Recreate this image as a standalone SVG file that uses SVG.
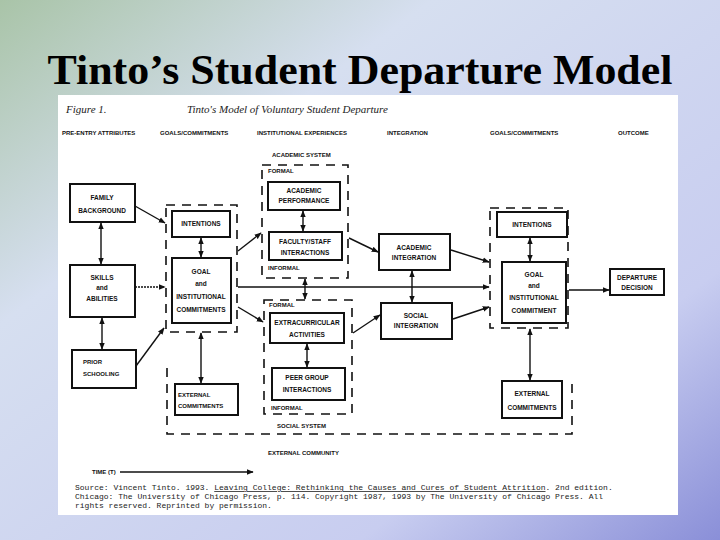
<svg xmlns="http://www.w3.org/2000/svg" width="720" height="540" viewBox="0 0 720 540">
<defs>
<linearGradient id="bg" x1="0" y1="0" x2="1" y2="1">
<stop offset="0" stop-color="#a9c4a8"/><stop offset="0.3" stop-color="#d6dff0"/><stop offset="0.75" stop-color="#c8cdf0"/><stop offset="1" stop-color="#8a8fd8"/>
</linearGradient>
<marker id="a" viewBox="0 0 10 10" refX="9" refY="5" markerWidth="5" markerHeight="5" orient="auto-start-reverse"><path d="M0,1 L10,5 L0,9 z" fill="#111"/></marker>
<style>
.b{fill:#fff;stroke:#111;stroke-width:2}
.d{fill:none;stroke:#111;stroke-width:1.6;stroke-dasharray:9,7}
.t{font-family:"Liberation Sans",Arial,sans-serif;font-size:6.5px;font-weight:bold;fill:#111;text-anchor:middle}
.l{font-family:"Liberation Sans",Arial,sans-serif;font-size:6px;font-weight:bold;fill:#111}
.c{stroke:#111;stroke-width:1.4;fill:none}
.s{font-family:"Liberation Mono","Courier New",monospace;font-size:8px;fill:#222}
</style>
</defs>
<rect width="720" height="540" fill="url(#bg)"/>
<text x="360" y="84" font-family="Liberation Serif,'Times New Roman',serif" font-size="43" font-weight="bold" text-anchor="middle" fill="#000" textLength="625" lengthAdjust="spacingAndGlyphs">Tinto’s Student Departure Model</text>
<rect x="58" y="95" width="620" height="420" fill="#fff"/>
<text x="66" y="113" font-family="Liberation Serif,serif" font-style="italic" font-size="11" fill="#222">Figure 1.</text>
<text x="187" y="113" font-family="Liberation Serif,serif" font-style="italic" font-size="11" fill="#222">Tinto's Model of Voluntary Student Departure</text>
<g class="l">
<text x="62" y="135">PRE-ENTRY ATTRIBUTES</text><text x="160" y="135">GOALS/COMMITMENTS</text><text x="257" y="135">INSTITUTIONAL EXPERIENCES</text><text x="387" y="135">INTEGRATION</text><text x="490" y="135">GOALS/COMMITMENTS</text><text x="618" y="135">OUTCOME</text>
<text x="272" y="157">ACADEMIC SYSTEM</text>
<text x="268" y="173">FORMAL</text><text x="268" y="270">INFORMAL</text>
<text x="269" y="307">FORMAL</text><text x="271" y="410">INFORMAL</text>
<text x="277" y="428">SOCIAL SYSTEM</text>
<text x="268" y="455">EXTERNAL COMMUNITY</text>
<text x="92" y="474">TIME (T)</text>
</g>
<g id="groups">
<rect class="d" x="166" y="205" width="71" height="127"/>
<rect class="d" x="262" y="165" width="86" height="113"/>
<rect class="d" x="264" y="300" width="88" height="114"/>
<rect class="d" x="490" y="208" width="78" height="120"/>
<path class="d" d="M167,368 V434 H572 V377"/>
</g>
<g id="nodes">
<g id="family"><rect class="b" x="70" y="184" width="65" height="38"/><text class="t" x="102" y="200">FAMILY</text><text class="t" x="102" y="213">BACKGROUND</text></g>
<g id="skills"><rect class="b" x="70" y="265" width="65" height="52"/><text class="t" x="102" y="280">SKILLS</text><text class="t" x="102" y="290" font-size="5">and</text><text class="t" x="102" y="301">ABILITIES</text></g>
<g id="prior"><rect class="b" x="72" y="350" width="64" height="38"/><text class="l" x="83" y="364">PRIOR</text><text class="l" x="83" y="376">SCHOOLING</text></g>
<g id="int1"><rect class="b" x="172" y="211" width="58" height="26"/><text class="t" x="201" y="226">INTENTIONS</text></g>
<g id="goal1"><rect class="b" x="172" y="258" width="59" height="65"/><text class="t" x="201" y="274">GOAL</text><text class="t" x="201" y="286" font-size="5">and</text><text class="t" x="201" y="299">INSTITUTIONAL</text><text class="t" x="201" y="312">COMMITMENTS</text></g>
<g id="ext1"><rect class="b" x="175" y="384" width="63" height="31"/><text class="l" x="178" y="397">EXTERNAL</text><text class="l" x="178" y="408">COMMITMENTS</text></g>
<g id="acperf"><rect class="b" x="268" y="182" width="72" height="28"/><text class="t" x="304" y="193">ACADEMIC</text><text class="t" x="304" y="203">PERFORMANCE</text></g>
<g id="faculty"><rect class="b" x="269" y="232" width="73" height="28"/><text class="t" x="305" y="244">FACULTY/STAFF</text><text class="t" x="305" y="255">INTERACTIONS</text></g>
<g id="extra"><rect class="b" x="270" y="313" width="74" height="30"/><text class="t" x="307" y="325">EXTRACURRICULAR</text><text class="t" x="307" y="337">ACTIVITIES</text></g>
<g id="peer"><rect class="b" x="272" y="368" width="73" height="32"/><text class="t" x="307" y="380">PEER GROUP</text><text class="t" x="307" y="392">INTERACTIONS</text></g>
<g id="acint"><rect class="b" x="379" y="234" width="71" height="36"/><text class="t" x="414" y="250">ACADEMIC</text><text class="t" x="414" y="260">INTEGRATION</text></g>
<g id="socint"><rect class="b" x="381" y="303" width="71" height="36"/><text class="t" x="416" y="318">SOCIAL</text><text class="t" x="416" y="328">INTEGRATION</text></g>
<g id="int2"><rect class="b" x="497" y="212" width="70" height="25"/><text class="t" x="532" y="227">INTENTIONS</text></g>
<g id="goal2"><rect class="b" x="502" y="262" width="64" height="61"/><text class="t" x="534" y="277">GOAL</text><text class="t" x="534" y="288" font-size="5">and</text><text class="t" x="534" y="300">INSTITUTIONAL</text><text class="t" x="534" y="313">COMMITMENT</text></g>
<g id="ext2"><rect class="b" x="502" y="381" width="60" height="37"/><text class="t" x="532" y="396">EXTERNAL</text><text class="t" x="532" y="410">COMMITMENTS</text></g>
<g id="departure"><rect class="b" x="610" y="269" width="54" height="26"/><text class="t" x="637" y="280">DEPARTURE</text><text class="t" x="637" y="290">DECISION</text></g>
</g>
<g id="connectors" marker-end="url(#a)">
<line class="c" x1="135" y1="206" x2="165" y2="223"/>
<line class="c" x1="135" y1="287" x2="165" y2="287" stroke-dasharray="2,1"/>
<line class="c" x1="136" y1="366" x2="164" y2="328"/>
<line class="c" x1="101" y1="223" x2="101" y2="264" marker-start="url(#a)"/>
<line class="c" x1="102" y1="318" x2="102" y2="349" marker-start="url(#a)"/>
<line class="c" x1="201" y1="238" x2="201" y2="257" marker-start="url(#a)"/>
<line class="c" x1="201" y1="333" x2="201" y2="383" marker-start="url(#a)"/>
<line class="c" x1="238" y1="251" x2="261" y2="233"/>
<line class="c" x1="238" y1="307" x2="263" y2="322"/>
<line class="c" x1="303" y1="211" x2="303" y2="231" marker-start="url(#a)"/>
<line class="c" x1="349" y1="238" x2="378" y2="252"/>
<line class="c" x1="307" y1="344" x2="307" y2="367" marker-start="url(#a)"/>
<line class="c" x1="353" y1="333" x2="380" y2="315"/>
<line class="c" x1="412" y1="271" x2="412" y2="302" marker-start="url(#a)"/>
<line class="c" x1="451" y1="250" x2="489" y2="262"/>
<line class="c" x1="453" y1="319" x2="489" y2="307"/>
<line class="c" x1="238" y1="287" x2="489" y2="287"/>
<line class="c" x1="305" y1="279" x2="305" y2="299" marker-start="url(#a)"/>
<line class="c" x1="530" y1="238" x2="530" y2="261" marker-start="url(#a)"/>
<line class="c" x1="530" y1="329" x2="530" y2="380" marker-start="url(#a)"/>
<line class="c" x1="569" y1="290" x2="609" y2="290"/>
<line class="c" x1="120" y1="472" x2="253" y2="472" stroke-width="1"/>
</g>
<text class="s" x="75" y="490">Source: Vincent Tinto. 1993. <tspan text-decoration="underline">Leaving College: Rethinking the Causes and Cures of Student Attrition</tspan>. 2nd edition.</text>
<text class="s" x="75" y="499">Chicago:  The University of Chicago Press, p. 114.  Copyright 1987, 1993 by The University of Chicago Press.  All</text>
<text class="s" x="75" y="508">rights reserved. Reprinted by permission.</text>
</svg>
